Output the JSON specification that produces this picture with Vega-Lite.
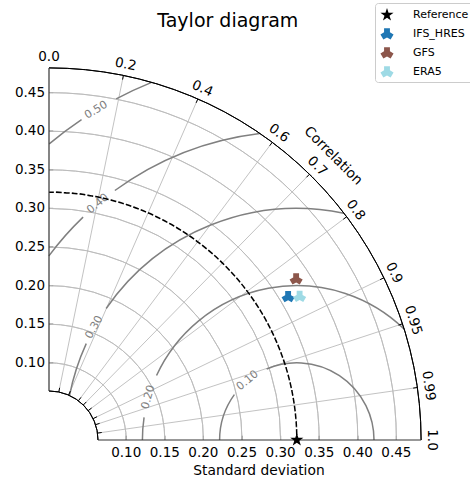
{
  "$schema": "https://vega.github.io/schema/vega-lite/v6.json",
  "width": 386,
  "height": 386,
  "autosize": {"type": "none"},
  "padding": {"left": 49, "top": 54, "right": 35, "bottom": 40},
  "config": {"font": "DejaVu Sans", "view": {"stroke": null}},
  "datasets": {
    "stdgrid": [{"s": 0.10}, {"s": 0.15}, {"s": 0.20}, {"s": 0.25}, {"s": 0.30}, {"s": 0.35}, {"s": 0.40}, {"s": 0.45}],
    "bounds": [{"s": 0.0635}, {"s": 0.482}],
    "refstd": [{"s": 0.321}],
    "corrgrid": [{"c": 0.2}, {"c": 0.4}, {"c": 0.6}, {"c": 0.7}, {"c": 0.8}, {"c": 0.9}, {"c": 0.95}, {"c": 0.99}],
    "corrlabels": [
      {"c": 0.0, "label": "0.0"}, {"c": 0.2, "label": "0.2"}, {"c": 0.4, "label": "0.4"}, {"c": 0.6, "label": "0.6"},
      {"c": 0.7, "label": "0.7"}, {"c": 0.8, "label": "0.8"}, {"c": 0.9, "label": "0.9"}, {"c": 0.95, "label": "0.95"},
      {"c": 0.99, "label": "0.99"}, {"c": 1.0, "label": "1.0"}
    ],
    "contours": [
      {"level": 0.10, "p1": 0, "p2": 113}, {"level": 0.10, "p1": 144, "p2": 180},
      {"level": 0.20, "p1": 46, "p2": 155.3}, {"level": 0.20, "p1": 171.6, "p2": 180},
      {"level": 0.30, "p1": 78.3, "p2": 145.4}, {"level": 0.30, "p1": 155.4, "p2": 168.9},
      {"level": 0.40, "p1": 96.9, "p2": 126.1}, {"level": 0.40, "p1": 133.8, "p2": 143.4},
      {"level": 0.50, "p1": 112.1, "p2": 117.9}, {"level": 0.50, "p1": 123.9, "p2": 129.9}
    ],
    "contourlabels": [
      {"level": 0.10, "phi": 129.6, "label": "0.10"},
      {"level": 0.20, "phi": 163.9, "label": "0.20"},
      {"level": 0.30, "phi": 150.9, "label": "0.30"},
      {"level": 0.40, "phi": 130.1, "label": "0.40"},
      {"level": 0.50, "phi": 121.3, "label": "0.50"}
    ],
    "axticks": [{"v": 0.10}, {"v": 0.15}, {"v": 0.20}, {"v": 0.25}, {"v": 0.30}, {"v": 0.35}, {"v": 0.40}, {"v": 0.45}],
    "models": [
      {"model": "Reference", "sd": 0.321, "r": 1.0},
      {"model": "IFS_HRES", "sd": 0.361, "r": 0.858},
      {"model": "GFS", "sd": 0.382, "r": 0.838},
      {"model": "ERA5", "sd": 0.374, "r": 0.868}
    ]
  },
  "layer": [
    {
      "data": {"name": "axticks"},
      "mark": {"type": "rule", "color": "#333333", "strokeWidth": 1},
      "encoding": {
        "y": {"field": "v", "type": "quantitative", "scale": {"domain": [0, 0.5], "nice": false, "zero": false}, "axis": null},
        "x": {"datum": 0, "type": "quantitative", "scale": {"domain": [0, 0.5], "nice": false, "zero": false}, "axis": null},
        "x2": {"datum": 0.0055}
      }
    },
    {
      "data": {"name": "axticks"},
      "mark": {"type": "rule", "color": "#333333", "strokeWidth": 1},
      "encoding": {
        "x": {"field": "v", "type": "quantitative", "axis": null},
        "y": {"datum": 0, "type": "quantitative", "axis": null},
        "y2": {"datum": 0.0055}
      }
    },
    {
      "data": {"name": "axticks"},
      "mark": {"type": "text", "fontSize": 13.5, "color": "black", "align": "center", "baseline": "top", "dy": 6},
      "encoding": {
        "x": {"field": "v", "type": "quantitative", "axis": null},
        "y": {"datum": 0, "type": "quantitative", "axis": null},
        "text": {"field": "v", "type": "quantitative", "format": ".2f"}
      }
    },
    {
      "data": {"name": "axticks"},
      "mark": {"type": "text", "fontSize": 13.5, "color": "black", "align": "right", "baseline": "middle", "dx": -4},
      "encoding": {
        "y": {"field": "v", "type": "quantitative", "axis": null},
        "x": {"datum": 0, "type": "quantitative", "axis": null},
        "text": {"field": "v", "type": "quantitative", "format": ".2f"}
      }
    },
    {
      "data": {"values": [{"t": "Standard deviation"}]},
      "mark": {"type": "text", "fontSize": 13.8, "color": "black", "align": "center", "baseline": "top", "dy": 24.4},
      "encoding": {
        "x": {"datum": 0.272, "type": "quantitative", "axis": null},
        "y": {"datum": 0, "type": "quantitative", "axis": null},
        "text": {"field": "t"}
      }
    },
    {
      "data": {"name": "stdgrid"},
      "mark": {"type": "arc", "filled": false, "color": "#bbbbbb", "strokeWidth": 0.9},
      "encoding": {
        "x": {"datum": 0, "type": "quantitative", "axis": null},
        "y": {"datum": 0, "type": "quantitative", "axis": null},
        "theta": {"datum": 0, "type": "quantitative", "stack": null, "scale": {"domain": [0, 360], "range": [0, 6.283185307179586]}},
        "theta2": {"datum": 90},
        "radius": {"field": "s", "type": "quantitative", "scale": {"type": "linear", "domain": [0, 0.5], "range": [0, 386], "zero": true}},
        "radius2": {"field": "s"}
      }
    },
    {
      "data": {"name": "corrgrid"},
      "transform": [
        {"calculate": "sqrt(1 - datum.c * datum.c)", "as": "sn"},
        {"calculate": "0.0635 * datum.c", "as": "xa"},
        {"calculate": "0.0635 * datum.sn", "as": "ya"},
        {"calculate": "0.482 * datum.c", "as": "xb"},
        {"calculate": "0.482 * datum.sn", "as": "yb"}
      ],
      "mark": {"type": "rule", "color": "#bbbbbb", "strokeWidth": 0.9},
      "encoding": {
        "x": {"field": "xa", "type": "quantitative", "axis": null},
        "y": {"field": "ya", "type": "quantitative", "axis": null},
        "x2": {"field": "xb"},
        "y2": {"field": "yb"}
      }
    },
    {
      "data": {"name": "contours"},
      "transform": [
        {"calculate": "90 - datum.p2", "as": "t1"},
        {"calculate": "90 - datum.p1", "as": "t2"}
      ],
      "mark": {"type": "arc", "filled": false, "color": "#808080", "strokeWidth": 1.5},
      "encoding": {
        "x": {"datum": 0.321, "type": "quantitative", "axis": null},
        "y": {"datum": 0, "type": "quantitative", "axis": null},
        "theta": {"field": "t1", "type": "quantitative", "stack": null, "scale": {"domain": [0, 360], "range": [0, 6.283185307179586]}},
        "theta2": {"field": "t2"},
        "radius": {"field": "level", "type": "quantitative", "scale": {"type": "linear", "domain": [0, 0.5], "range": [0, 386], "zero": true}},
        "radius2": {"field": "level"}
      }
    },
    {
      "data": {"name": "contourlabels"},
      "transform": [
        {"calculate": "0.321 + datum.level * cos(datum.phi * PI / 180)", "as": "lx"},
        {"calculate": "datum.level * sin(datum.phi * PI / 180)", "as": "ly"},
        {"calculate": "90 - datum.phi", "as": "ang"}
      ],
      "mark": {"type": "text", "fontSize": 11, "color": "#808080", "align": "center", "baseline": "middle"},
      "encoding": {
        "x": {"field": "lx", "type": "quantitative", "axis": null},
        "y": {"field": "ly", "type": "quantitative", "axis": null},
        "text": {"field": "label"},
        "angle": {"field": "ang", "type": "quantitative", "scale": null}
      }
    },
    {
      "data": {"name": "refstd"},
      "mark": {"type": "arc", "filled": false, "color": "black", "strokeWidth": 1.5, "strokeDash": [5.5, 2.4], "strokeDashOffset": 0.588},
      "encoding": {
        "x": {"datum": 0, "type": "quantitative", "axis": null},
        "y": {"datum": 0, "type": "quantitative", "axis": null},
        "theta": {"datum": 0, "type": "quantitative", "stack": null, "scale": {"domain": [0, 360], "range": [0, 6.283185307179586]}},
        "theta2": {"datum": 90},
        "radius": {"field": "s", "type": "quantitative", "scale": {"type": "linear", "domain": [0, 0.5], "range": [0, 386], "zero": true}},
        "radius2": {"field": "s"}
      }
    },
    {
      "data": {"name": "bounds"},
      "mark": {"type": "arc", "filled": false, "color": "black", "strokeWidth": 1},
      "encoding": {
        "x": {"datum": 0, "type": "quantitative", "axis": null},
        "y": {"datum": 0, "type": "quantitative", "axis": null},
        "theta": {"datum": 0, "type": "quantitative", "stack": null, "scale": {"domain": [0, 360], "range": [0, 6.283185307179586]}},
        "theta2": {"datum": 90},
        "radius": {"field": "s", "type": "quantitative", "scale": {"type": "linear", "domain": [0, 0.5], "range": [0, 386], "zero": true}},
        "radius2": {"field": "s"}
      }
    },
    {
      "data": {"values": [{"axis": "left"}]},
      "mark": {"type": "rule", "color": "#333333", "strokeWidth": 1.2},
      "encoding": {
        "x": {"datum": 0, "type": "quantitative", "axis": null},
        "y": {"datum": 0.0635, "type": "quantitative", "axis": null},
        "y2": {"datum": 0.482}
      }
    },
    {
      "data": {"values": [{"axis": "bottom"}]},
      "mark": {"type": "rule", "color": "#333333", "strokeWidth": 1.2},
      "encoding": {
        "y": {"datum": 0, "type": "quantitative", "axis": null},
        "x": {"datum": 0.0635, "type": "quantitative", "axis": null},
        "x2": {"datum": 0.482}
      }
    },
    {
      "data": {"name": "corrgrid"},
      "transform": [
        {"calculate": "sqrt(1 - datum.c * datum.c)", "as": "sn"},
        {"calculate": "0.482 * datum.c", "as": "xa"},
        {"calculate": "0.482 * datum.sn", "as": "ya"},
        {"calculate": "0.4765 * datum.c", "as": "xb"},
        {"calculate": "0.4765 * datum.sn", "as": "yb"}
      ],
      "mark": {"type": "rule", "color": "black", "strokeWidth": 1},
      "encoding": {
        "x": {"field": "xa", "type": "quantitative", "axis": null},
        "y": {"field": "ya", "type": "quantitative", "axis": null},
        "x2": {"field": "xb"},
        "y2": {"field": "yb"}
      }
    },
    {
      "data": {"name": "corrgrid"},
      "transform": [
        {"calculate": "sqrt(1 - datum.c * datum.c)", "as": "sn"},
        {"calculate": "0.0635 * datum.c", "as": "xa"},
        {"calculate": "0.0635 * datum.sn", "as": "ya"},
        {"calculate": "0.069 * datum.c", "as": "xb"},
        {"calculate": "0.069 * datum.sn", "as": "yb"}
      ],
      "mark": {"type": "rule", "color": "black", "strokeWidth": 1},
      "encoding": {
        "x": {"field": "xa", "type": "quantitative", "axis": null},
        "y": {"field": "ya", "type": "quantitative", "axis": null},
        "x2": {"field": "xb"},
        "y2": {"field": "yb"}
      }
    },
    {
      "data": {"name": "corrlabels"},
      "transform": [
        {"calculate": "sqrt(1 - datum.c * datum.c)", "as": "sn"},
        {"calculate": "0.4965 * datum.c", "as": "lx"},
        {"calculate": "0.4965 * datum.sn", "as": "ly"},
        {"calculate": "90 - acos(datum.c) * 180 / PI", "as": "ang"}
      ],
      "mark": {"type": "text", "fontSize": 13.5, "color": "black", "align": "center", "baseline": "middle"},
      "encoding": {
        "x": {"field": "lx", "type": "quantitative", "axis": null},
        "y": {"field": "ly", "type": "quantitative", "axis": null},
        "text": {"field": "label"},
        "angle": {"field": "ang", "type": "quantitative", "scale": null}
      }
    },
    {
      "data": {"values": [{"t": "Correlation"}]},
      "mark": {"type": "text", "fontSize": 13.8, "color": "black", "align": "center", "baseline": "middle", "angle": 45},
      "encoding": {
        "x": {"datum": 0.368, "type": "quantitative", "axis": null},
        "y": {"datum": 0.368, "type": "quantitative", "axis": null},
        "text": {"field": "t"}
      }
    },
    {
      "data": {"values": [{"t": "Taylor diagram"}]},
      "mark": {"type": "text", "fontSize": 19, "color": "black", "align": "center", "baseline": "alphabetic"},
      "encoding": {
        "x": {"datum": 0.2316, "type": "quantitative", "axis": null},
        "y": {"datum": 0.5346, "type": "quantitative", "axis": null},
        "text": {"field": "t"}
      }
    },
    {
      "data": {"name": "models"},
      "transform": [
        {"calculate": "datum.sd * datum.r", "as": "px"},
        {"calculate": "datum.sd * sqrt(1 - datum.r * datum.r)", "as": "py"}
      ],
      "mark": {"type": "point", "filled": true, "size": 190, "opacity": 1},
      "encoding": {
        "x": {"field": "px", "type": "quantitative", "axis": null},
        "y": {"field": "py", "type": "quantitative", "axis": null},
        "color": {"field": "model", "type": "nominal",
          "scale": {"domain": ["Reference", "IFS_HRES", "GFS", "ERA5"], "range": ["#000000", "#1f77b4", "#8c564b", "#9edae5"]},
          "legend": {"title": null, "orient": "none", "legendX": 326, "legendY": -51, "padding": 4, "strokeColor": "#cccccc", "fillColor": "#ffffff",
            "cornerRadius": 3, "labelFontSize": 11, "labelColor": "black", "symbolSize": 190, "rowPadding": 5, "labelOffset": 18}},
        "shape": {"field": "model", "type": "nominal",
          "scale": {"domain": ["Reference", "IFS_HRES", "GFS", "ERA5"], "range": [
            "M0,-1L0.2245,-0.309L0.9511,-0.309L0.3633,0.118L0.5878,0.809L0,0.382L-0.5878,0.809L-0.3633,0.118L-0.9511,-0.309L-0.2245,-0.309Z",
            "M-0.425,-0.85L0.425,-0.85L0.425,-0.245L0.95,0.06L0.525,0.79L0,0.49L-0.525,0.79L-0.95,0.06L-0.425,-0.245Z",
            "M-0.425,-0.85L0.425,-0.85L0.425,-0.245L0.95,0.06L0.525,0.79L0,0.49L-0.525,0.79L-0.95,0.06L-0.425,-0.245Z",
            "M-0.425,-0.85L0.425,-0.85L0.425,-0.245L0.95,0.06L0.525,0.79L0,0.49L-0.525,0.79L-0.95,0.06L-0.425,-0.245Z"]},
          "legend": {"title": null, "orient": "none", "legendX": 326, "legendY": -51, "padding": 4, "strokeColor": "#cccccc", "fillColor": "#ffffff",
            "cornerRadius": 3, "labelFontSize": 11, "labelColor": "black", "symbolSize": 190, "rowPadding": 5, "labelOffset": 18}}
      }
    }
  ]
}
